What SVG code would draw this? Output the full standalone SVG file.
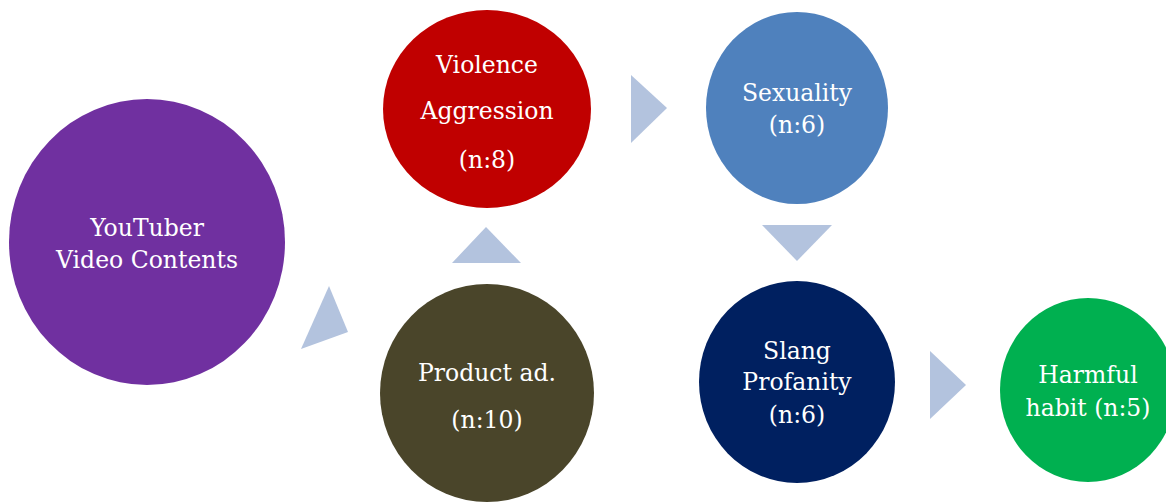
<svg xmlns="http://www.w3.org/2000/svg" width="1166" height="502" viewBox="0 0 1166 502">
  <style>
    .label { font-family: "DejaVu Serif", "Liberation Serif", serif; font-size: 23.5px; fill: #FFFFFF; text-anchor: middle; }
    .arrow { fill: #B3C3DE; }
  </style>
  <rect width="1166" height="502" fill="#FFFFFF"/>

  <g id="youtuber">
    <ellipse cx="147" cy="242" rx="138" ry="143" fill="#7030A0"/>
    <text class="label" x="147" y="236">YouTuber</text>
    <text class="label" x="147" y="268">Video Contents</text>
  </g>

  <g id="violence">
    <ellipse cx="487" cy="109" rx="104" ry="99" fill="#C00000"/>
    <text class="label" x="487" y="73">Violence</text>
    <text class="label" x="487" y="119">Aggression</text>
    <text class="label" x="487" y="168">(n:8)</text>
  </g>

  <g id="sexuality">
    <ellipse cx="797" cy="108" rx="91" ry="96" fill="#4F81BD"/>
    <text class="label" x="797" y="101">Sexuality</text>
    <text class="label" x="797" y="133">(n:6)</text>
  </g>

  <g id="product-ad">
    <ellipse cx="487" cy="393" rx="107" ry="109" fill="#4A452A"/>
    <text class="label" x="487" y="381">Product ad.</text>
    <text class="label" x="487" y="428">(n:10)</text>
  </g>

  <g id="slang">
    <ellipse cx="797" cy="382" rx="98" ry="101" fill="#002060"/>
    <text class="label" x="797" y="359">Slang</text>
    <text class="label" x="797" y="390">Profanity</text>
    <text class="label" x="797" y="423">(n:6)</text>
  </g>

  <g id="harmful">
    <ellipse cx="1088" cy="390" rx="88" ry="92" fill="#00B050"/>
    <text class="label" x="1088" y="383">Harmful</text>
    <text class="label" x="1088" y="416">habit (n:5)</text>
  </g>

  <g id="connectors">
    <polygon class="arrow" points="329,286 348,332 301,349"/>
    <polygon class="arrow" points="452,263 521,263 486,227"/>
    <polygon class="arrow" points="631,75 631,143 667,108"/>
    <polygon class="arrow" points="762,225 832,225 797,261"/>
    <polygon class="arrow" points="930,351 930,419 966,385"/>
  </g>
</svg>
